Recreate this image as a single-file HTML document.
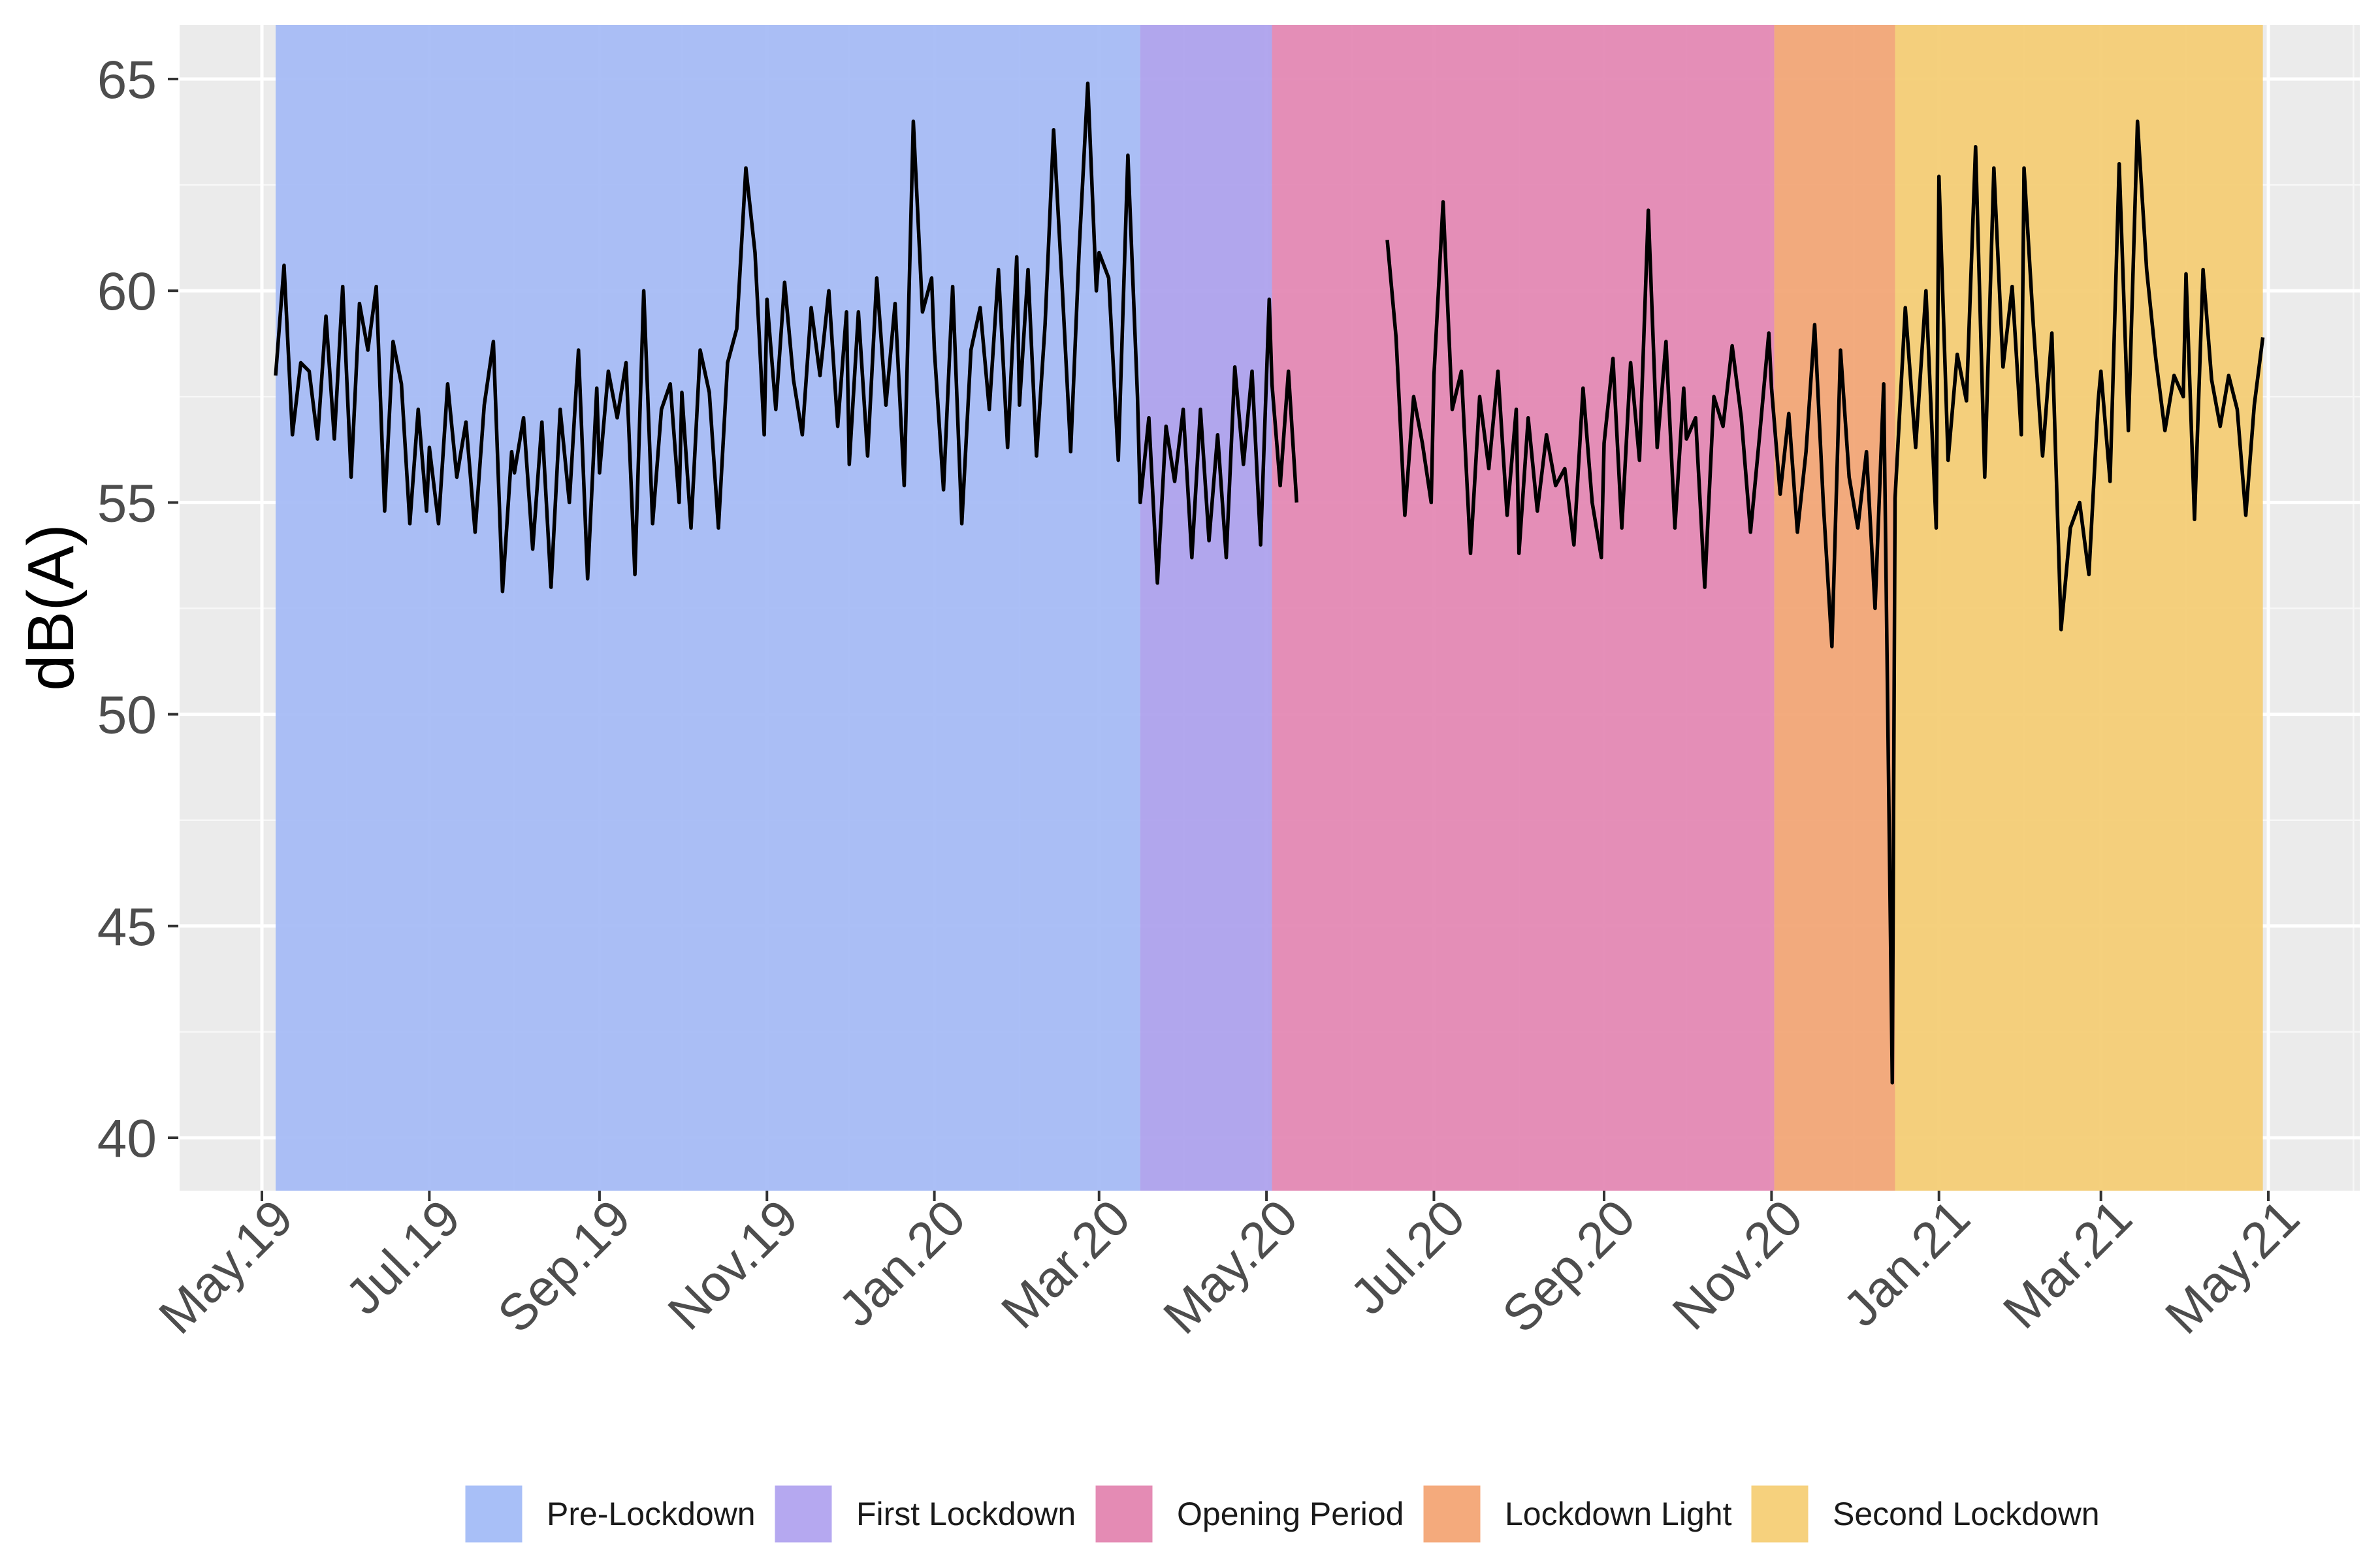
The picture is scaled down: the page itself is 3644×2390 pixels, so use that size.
<!DOCTYPE html>
<html><head><meta charset="utf-8">
<style>
html,body{margin:0;padding:0;background:#fff;}
svg{display:block;font-family:"Liberation Sans",Arial,sans-serif;}
</style></head>
<body>
<svg id="chart" width="3644" height="2390" viewBox="0 0 3644 2390" xmlns="http://www.w3.org/2000/svg">
<rect x="0" y="0" width="3644" height="2390" fill="#ffffff"/>
<g id="panel"></g>
<g id="bands"></g>
<g id="series"></g>
<g id="axes"></g>
<text x="0" y="0" transform="translate(112,930) rotate(-90)" text-anchor="middle" font-size="100" fill="#000">dB(A)</text>
<g id="legend"></g>
</svg>
<script>
// ---- data ----
const yTicks = [40, 45, 50, 55, 60, 65];
const xTickLabels = ["May.19","Jul.19","Sep.19","Nov.19","Jan.20","Mar.20","May.20","Jul.20","Sep.20","Nov.20","Jan.21","Mar.21","May.21"];
const xTickDates = ["2019-05-01","2019-07-01","2019-09-01","2019-11-01","2020-01-01","2020-03-01","2020-05-01","2020-07-01","2020-09-01","2020-11-01","2021-01-01","2021-03-01","2021-05-01"];
const periodNames = ["Pre-Lockdown","First Lockdown","Opening Period","Lockdown Light","Second Lockdown"];
const periodStarts = ["2019-05-06","2020-03-16","2020-05-03","2020-11-02","2020-12-16"];
const periodEnds = ["2020-03-16","2020-05-03","2020-11-02","2020-12-16","2021-04-29"];
const periodColors = ["#a7bcf5","#aea2ed","#e489b4","#f2a677","#f4cd76"];
const legendColors = ["#a8bff7","#b5a8f0","#e48bb4","#f4aa7c","#f6d17d"];

// segment A: May 2019 - May 2020 (chunks: start, end, values)
const chunkStartA = ["2019-05-06","2019-07-01","2019-08-01","2019-09-01","2019-10-01","2019-11-01","2019-12-01","2020-01-01","2020-02-01","2020-03-01","2020-03-16","2020-05-03"];
const chunkEndA   = ["2019-06-30","2019-07-31","2019-08-31","2019-09-30","2019-10-31","2019-11-30","2019-12-31","2020-01-31","2020-02-29","2020-03-15","2020-05-02","2020-05-12"];
const chunkValsA = [
 [58,60.6,56.6,58.3,58.1,56.5,59.4,56.5,60.1,55.6,59.7,58.6,60.1,54.8,58.8,57.8,54.5,57.2,54.8],
 [56.3,54.5,57.8,55.6,56.9,54.3,57.3,58.8,52.9,56.2],
 [55.7,57.0,53.9,56.9,53.0,57.2,55.0,58.6,53.2,57.7],
 [55.7,58.1,57.0,58.3,53.3,60.0,54.5,57.2,57.8,55.0],
 [57.6,54.4,58.6,57.6,54.4,58.3,59.1,62.9,60.9,56.6],
 [59.8,57.2,60.2,57.9,56.6,59.6,58.0,60.0,56.8,59.5],
 [55.9,59.5,56.1,60.3,57.3,59.7,55.4,64.0,59.5,60.3],
 [58.6,55.3,60.1,54.5,58.6,59.6,57.2,60.5,56.3,60.8],
 [57.3,60.5,56.1,59.2,63.8,60.1,56.2,61.0,64.9,60.0],
 [60.9,60.3,56.0,63.2,57.5],
 [55.0,57.0,53.1,56.8,55.5,57.2,53.7,57.2,54.1,56.6,53.7,58.2,55.9,58.1,54.0,59.8],
 [57.8,55.4,58.1,55.0]
];
// segment B: Jun 2020 - Apr 2021
const chunkStartB = ["2020-06-14","2020-07-01","2020-08-01","2020-09-01","2020-10-01","2020-11-01","2020-12-16","2021-01-01","2021-02-01","2021-03-01","2021-04-01"];
const chunkEndB   = ["2020-06-30","2020-07-31","2020-08-31","2020-09-30","2020-10-31","2020-12-15","2020-12-31","2021-01-31","2021-02-28","2021-03-31","2021-04-29"];
const chunkValsB = [
 [61.2,58.9,54.7,57.5,56.4,55.0],
 [58.0,62.1,57.2,58.1,53.8,57.5,55.8,58.1,54.7,57.2],
 [53.8,57.0,54.8,56.6,55.4,55.8,54.0,57.7,55.0,53.7],
 [56.4,58.4,54.4,58.3,56.0,61.9,56.3,58.8,54.4,57.7],
 [56.5,57.0,53.0,57.5,56.8,58.7,57.0,54.3,56.6,59.0],
 [57.7,55.2,57.1,54.3,56.2,59.2,55.0,51.6,58.6,55.6,54.4,56.2,52.5,57.8,41.3],
 [55.1,59.6,56.3,60.0,54.4],
 [62.7,56.0,58.5,57.4,63.4,55.6,62.9,58.2,60.1,56.6],
 [62.9,59.2,56.1,59.0,52.0,54.4,55.0,53.3,57.4],
 [58.1,55.5,63.0,56.7,64.0,60.5,58.4,56.7,58.0,57.5],
 [60.4,54.6,60.5,57.9,56.8,58.0,57.2,54.7,57.3,58.9]
];

// ---- layout ----
const NS = "http://www.w3.org/2000/svg";
const P = {left:275, right:3613, top:38, bottom:1823};
const origin = Date.UTC(2019,4,1);
const pxPerDay = 4.2025, x0 = 401;
function dayOf(s){const p=s.split("-").map(Number);return (Date.UTC(p[0],p[1]-1,p[2])-origin)/86400000;}
function xScale(day){return x0 + day*pxPerDay;}
function yScale(v){return 121 + (65 - v)*64.84;}
function mk(tag, attrs, parent){const e=document.createElementNS(NS,tag);for(const k in attrs)e.setAttribute(k,attrs[k]);parent.appendChild(e);return e;}

const panel = document.getElementById("panel");
const bandsG = document.getElementById("bands");
const seriesG = document.getElementById("series");
const axesG = document.getElementById("axes");
const legendG = document.getElementById("legend");

const bg = mk("rect",{x:P.left,y:P.top,width:P.right-P.left,height:P.bottom-P.top,fill:"#ebebeb"},panel);



// minor grid
for(let v=42.5; v<=65; v+=5){
  const l = mk("line",{x1:P.left,x2:P.right,y1:yScale(v),y2:yScale(v),stroke:"#f7f7f7","stroke-width":2.5},panel);
  
  
}
const minorDates = ["2019-04-01","2019-06-01","2019-08-01","2019-10-01","2019-12-01","2020-02-01","2020-04-01","2020-06-01","2020-08-01","2020-10-01","2020-12-01","2021-02-01","2021-04-01","2021-06-01"];
minorDates.forEach(d=>{
  const x = xScale(dayOf(d));
  if(x<P.left||x>P.right) return;
  const l = mk("line",{x1:x,x2:x,y1:P.top,y2:P.bottom,stroke:"#f7f7f7","stroke-width":2.5},panel);
  
  
});
// major grid
yTicks.forEach(v=>{
  const l = mk("line",{x1:P.left,x2:P.right,y1:yScale(v),y2:yScale(v),stroke:"#ffffff","stroke-width":5},panel);
  
  
});
xTickDates.forEach(d=>{
  const x = xScale(dayOf(d));
  const l = mk("line",{x1:x,x2:x,y1:P.top,y2:P.bottom,stroke:"#ffffff","stroke-width":5},panel);
  
  
});

// bands
periodNames.forEach((n,i)=>{
  const xa = xScale(dayOf(periodStarts[i])), xb = xScale(dayOf(periodEnds[i]));
  const r = mk("rect",{x:xa,y:P.top,width:xb-xa,height:P.bottom-P.top,fill:periodColors[i],"fill-opacity":0.95},bandsG);
  
  
});

// series
function buildPath(starts, ends, vals){
  const pts=[];
  starts.forEach((s,i)=>{
    const a=dayOf(s), b=dayOf(ends[i]), v=vals[i], n=v.length;
    v.forEach((val,j)=>{
      const d = n>1 ? a + (b-a)*j/(n-1) : a;
      pts.push(xScale(d).toFixed(1)+","+yScale(val).toFixed(1));
    });
  });
  return "M"+pts.join("L");
}
const pa = mk("path",{d:buildPath(chunkStartA,chunkEndA,chunkValsA),fill:"none",stroke:"#000","stroke-width":5.5,"stroke-linejoin":"round"},seriesG);


const pb = mk("path",{d:buildPath(chunkStartB,chunkEndB,chunkValsB),fill:"none",stroke:"#000","stroke-width":5.5,"stroke-linejoin":"round"},seriesG);



// y axis
yTicks.forEach(v=>{
  const y=yScale(v);
  const t = mk("line",{x1:257,x2:273,y1:y,y2:y,stroke:"#333","stroke-width":4},axesG);
  
  
  const tx = mk("text",{x:240,y:y+29,"text-anchor":"end","font-size":82,fill:"#4d4d4d"},axesG);
  tx.textContent = String(v);
  
  
});
// x axis
xTickDates.forEach((d,i)=>{
  const x=xScale(dayOf(d));
  const t = mk("line",{x1:x,x2:x,y1:P.bottom,y2:P.bottom+16,stroke:"#333","stroke-width":4},axesG);
  
  
  const tx = mk("text",{x:0,y:0,"text-anchor":"end","font-size":78,fill:"#4d4d4d",transform:"translate("+(x+52)+","+(1870)+") rotate(-45)"},axesG);
  tx.textContent = xTickLabels[i];
  
  
});

// legend
const legBoxX = [711,1185,1676,2178,2680];
periodNames.forEach((n,i)=>{
  const g = mk("g",{},legendG);
  
  
  const r = mk("rect",{x:legBoxX[i],y:2273,width:90,height:90,fill:legendColors[i],stroke:"#ffffff","stroke-width":3},g);
  
  
  const t = mk("text",{x:legBoxX[i]+126,y:2335,"font-size":50,fill:"#1a1a1a"},g);
  t.textContent = n;
  
  
});
</script>
</body></html>
